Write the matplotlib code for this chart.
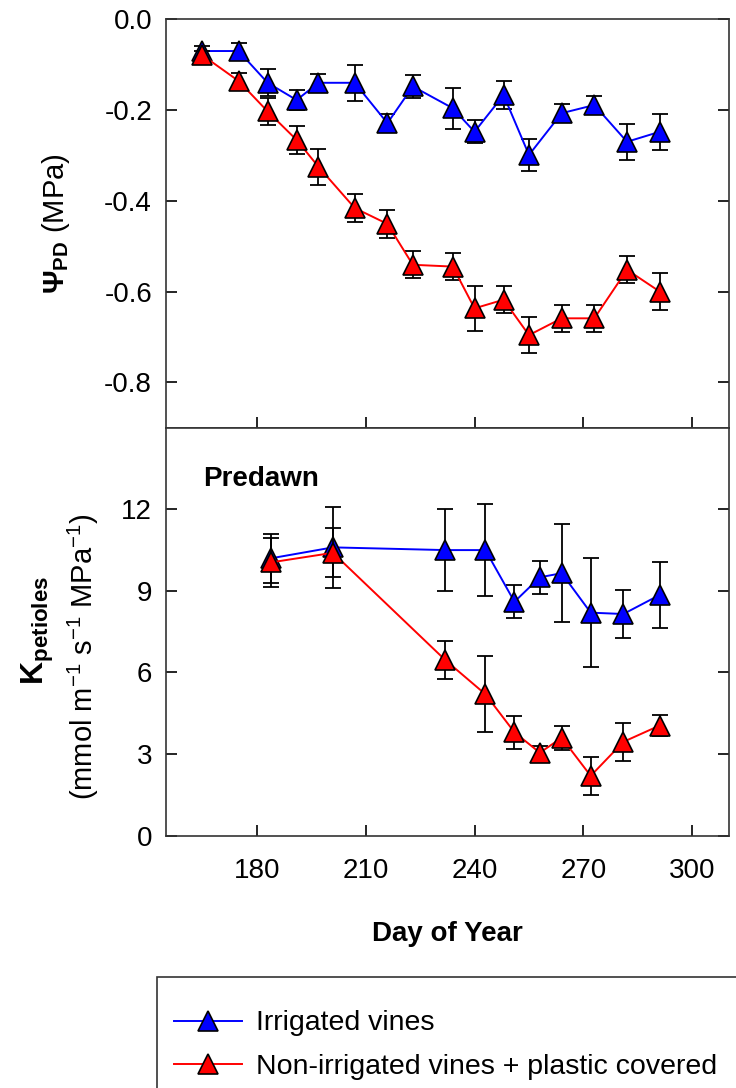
import matplotlib
matplotlib.use('Agg')
import matplotlib.pyplot as plt
from matplotlib.patches import Rectangle

plt.rcParams['font.family'] = ['Liberation Sans', 'DejaVu Sans']
plt.rcParams['mathtext.fontset'] = 'custom'
plt.rcParams['mathtext.rm'] = 'Liberation Sans'
plt.rcParams['mathtext.bf'] = 'Liberation Sans:bold'
plt.rcParams['mathtext.it'] = 'Liberation Sans:italic'
plt.rcParams['axes.unicode_minus'] = False

# predawn water potential (MPa), mean and error
doy_psi = [165, 175, 183, 191, 197, 207, 216, 223, 234, 240, 248, 255, 264, 273, 282, 291]
psi_irr = [-0.07, -0.07, -0.14, -0.178, -0.14, -0.14, -0.229, -0.148, -0.196, -0.248,
           -0.167, -0.299, -0.207, -0.189, -0.27, -0.248]
psi_irr_err = [0.01, 0.018, 0.03, 0.022, 0.02, 0.04, 0.02, 0.025, 0.045, 0.025,
               0.03, 0.035, 0.02, 0.02, 0.04, 0.04]
psi_dry = [-0.079, -0.136, -0.203, -0.266, -0.325, -0.416, -0.451, -0.541, -0.545, -0.637,
           -0.618, -0.696, -0.659, -0.659, -0.552, -0.60]
psi_dry_err = [0.01, 0.018, 0.03, 0.03, 0.04, 0.03, 0.03, 0.03, 0.03, 0.05,
               0.03, 0.04, 0.03, 0.03, 0.03, 0.04]

# petiole hydraulic conductance
doy_k = [184, 201, 232, 243, 251, 258, 264, 272, 281, 291]
k_irr = [10.2, 10.6, 10.5, 10.5, 8.6, 9.5, 9.65, 8.2, 8.15, 8.85]
k_irr_err = [0.9, 1.5, 1.5, 1.7, 0.6, 0.6, 1.8, 2.0, 0.9, 1.2]
k_dry = [10.05, 10.4, 6.45, 5.2, 3.8, 3.05, 3.6, 2.2, 3.45, 4.05]
k_dry_err = [0.9, 0.9, 0.7, 1.4, 0.6, 0.25, 0.45, 0.7, 0.7, 0.4]

labels = ['Irrigated vines', 'Non-irrigated vines + plastic covered']
xticks = [180, 210, 240, 270, 300]


def draw(ax, x, y, err, color, label, z):
    ax.errorbar(x, y, yerr=err, fmt='none', ecolor='black', elinewidth=1.3,
                capsize=5.5, capthick=1.3, zorder=z)
    line, = ax.plot(x, y, '-^', color=color, lw=1.4, ms=15, mfc=color,
                    mec='black', mew=1.2, label=label, zorder=z + 1)
    return line


fig = plt.figure(figsize=(7.36, 10.88), dpi=100)
ax1 = fig.add_axes([0.2255, 0.6069, 0.7645, 0.3754])
ax2 = fig.add_axes([0.2255, 0.2319, 0.7645, 0.3750])

h1 = draw(ax1, doy_psi, psi_irr, psi_irr_err, '#0000ff', labels[0], 2)
h2 = draw(ax1, doy_psi, psi_dry, psi_dry_err, '#ff0000', labels[1], 4)
draw(ax2, doy_k, k_irr, k_irr_err, '#0000ff', labels[0], 2)
draw(ax2, doy_k, k_dry, k_dry_err, '#ff0000', labels[1], 4)

for ax in (ax1, ax2):
    ax.set_xlim(155, 310)
    ax.set_xticks(xticks)
    ax.tick_params(direction='in', length=8, width=1.2, labelsize=20,
                   pad=10, right=True, top=False, color='black')
    for s in ax.spines.values():
        s.set_color('#333333')
        s.set_linewidth(1.2)

ax1.set_ylim(-0.9, 0)
ax1.set_yticks([0, -0.2, -0.4, -0.6, -0.8])
ax1.set_yticklabels(['0.0', '-0.2', '-0.4', '-0.6', '-0.8'])
ax1.tick_params(axis='x', labelbottom=False)
ax1.set_ylabel(r'$\mathbf{\Psi_{PD}}$ (MPa)', fontsize=21)
ax1.yaxis.set_label_coords(-0.167, 0.5)

ax2.set_ylim(0, 15)
ax2.set_yticks([0, 3, 6, 9, 12])
ax2.tick_params(axis='x', pad=16)
ax2.set_xlabel('Day of Year', fontsize=20, fontweight='bold', labelpad=27)
ax2.text(-0.228, 0.504, r'$\mathbf{K_{petioles}}$', transform=ax2.transAxes,
         rotation=90, ha='center', va='center', fontsize=23)
ax2.text(-0.1475, 0.44, r'(mmol m$^{-1}$ s$^{-1}$ MPa$^{-1}$)', transform=ax2.transAxes,
         rotation=90, ha='center', va='center', fontsize=21)
ax2.text(0.066, 0.857, 'Predawn', transform=ax2.transAxes, fontsize=20,
         fontweight='bold', ha='left', va='baseline')

fig.legend([h1, h2], labels, loc='center left', bbox_to_anchor=(0.236, 0.0395),
           frameon=False, fontsize=20.5, handlelength=2.4, handletextpad=0.5,
           borderpad=0, borderaxespad=0, labelspacing=0.6, numpoints=1)
fig.patches.append(Rectangle((0.2133, -0.05), 0.9, 0.1516, transform=fig.transFigure,
                             fill=False, ec='#333333', lw=1.2))

fig.savefig('out.png', dpi=100)
